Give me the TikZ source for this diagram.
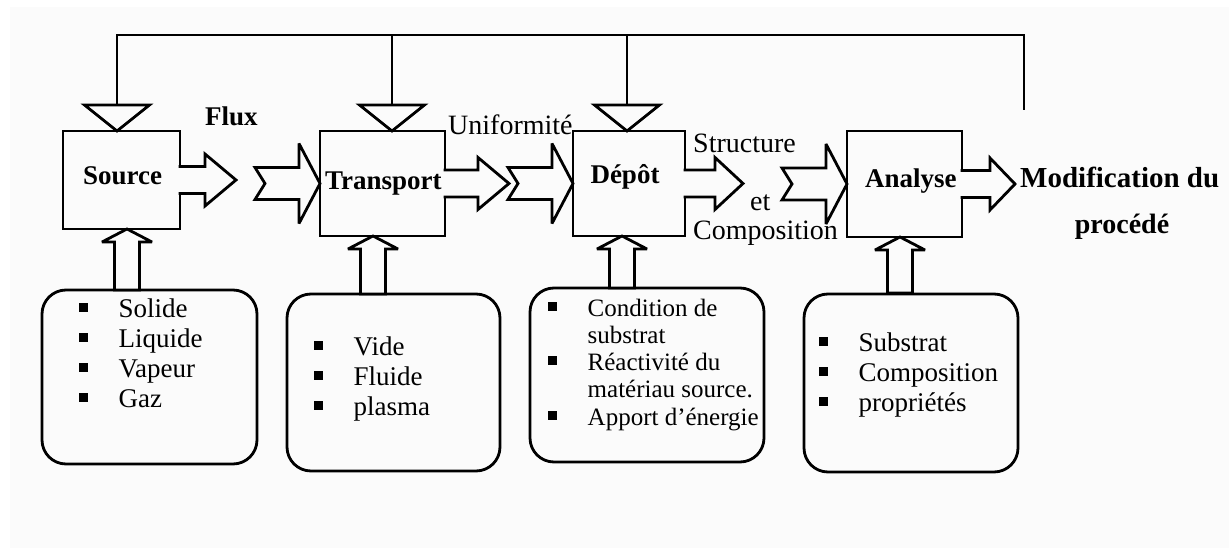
\documentclass[tikz,border=0pt]{standalone}
\usepackage{fontspec}
\setmainfont{Liberation Serif}
\usetikzlibrary{calc}
\definecolor{paper}{RGB}{251,251,251}

% square bullet followed by the indent of the item text
\newcommand\itm{\makebox[40pt][l]{\rule[5.5pt]{9pt}{9pt}}}
\newcommand\itmgap{\hspace*{40pt}}

\tikzset{
  ln/.style={line width=2.8pt},
  stagebox/.style={ln, draw, inner sep=0pt, outer sep=0pt},
  listbox/.style={ln, draw, rounded corners=24pt, inner sep=0pt, outer sep=0pt},
  blk/.style={ln, draw, fill=paper, line join=miter, miter limit=4},
  stagename/.style={font=\fontsize{27}{30}\selectfont\bfseries, inner sep=0pt, anchor=base west},
  tag/.style={font=\fontsize{28}{32}\selectfont, inner sep=0pt, anchor=base west},
  itemtext/.style={font=\fontsize{27}{30}\selectfont, inner sep=0pt, anchor=base west},
  itemsmall/.style={font=\fontsize{25}{30}\selectfont, inner sep=0pt, anchor=base west},
}

% hollow arrow leaving the east side of a stage: node, shaft length, head length
\newcommand\outarrow[3]{%
  \draw[blk] ([shift={(-1.5,-13.5)}]#1.east) -- ++({#2+1.5},0) -- ++(0,-12.5)
    -- ++(#3,26) -- ++(-#3,26) -- ++(0,-12.5) -- ++({-#2-1.5},0);}
% notched hollow arrow ending on the west side of a stage
\newcommand\inarrow[1]{%
  \draw[blk] (#1.west) -- ++(-21,-40) -- ++(0,24) -- ++(-44,0) -- ++(10,16)
    -- ++(-10,16) -- ++(44,0) -- ++(0,24) -- cycle;}
% hollow arrow rising into the bottom of a stage: node, x offset, shaft length
\newcommand\risearrow[3]{%
  \draw[blk] ([xshift=#2]#1.south) -- ++(25,13) -- ++(-12.5,0) -- ++(0,#3)
    -- ++(-25,0) -- ++(0,-#3) -- ++(-12.5,0) -- cycle;}
% feedback triangle sitting on top of a stage
\newcommand\droptri[2]{%
  \draw[blk] (#1.north -| #2) -- ++(-32.5,-26) -- ++(65,0) -- cycle;}

\begin{document}
\begin{tikzpicture}[x=1pt,y=-1pt]
\useasboundingbox (0,0) rectangle (1229,548);
\fill[paper] (10,7) rectangle (1229,548);

% stages
\node[stagebox, minimum width=117, minimum height=98]  (src) at (121.5,180) {};
\node[stagebox, minimum width=125, minimum height=105] (tra) at (382.5,183.5) {};
\node[stagebox, minimum width=112, minimum height=105] (dep) at (629,183.5) {};
\node[stagebox, minimum width=115, minimum height=106] (ana) at (904.5,184) {};

\node[stagename] (srcL) at (83,185) {Source};
\node[stagename] (traL) at (325,190) {Transport};
\node[stagename, anchor=base] (depL) at (625,184) {Dépôt};
\node[stagename] (anaL) at (865,188) {Analyse};

% feedback loop
\coordinate (fbS) at (117,35);
\coordinate (fbT) at (392,35);
\coordinate (fbD) at (627,35);
\coordinate (fbE) at (1024,35);
\coordinate (fbEnd) at (1024,110);
\draw[ln] ($(src.north -| fbS)+(0,-26)$) -- (fbS) -- (fbE) -- (fbEnd);
\draw[ln] (fbT) -- ($(tra.north -| fbT)+(0,-26)$);
\draw[ln] (fbD) -- ($(dep.north -| fbD)+(0,-26)$);
\droptri{src}{fbS}
\droptri{tra}{fbT}
\droptri{dep}{fbD}

% lists of parameters
\node[listbox, minimum width=215, minimum height=174] (lsrc) at (149.5,377) {};
\node[listbox, minimum width=213, minimum height=177] (ltra) at (393.5,382.5) {};
\node[listbox, minimum width=234, minimum height=174] (ldep) at (647,375) {};
\node[listbox, minimum width=214, minimum height=178] (lana) at (911,383) {};

% flow between stages
\outarrow{src}{25}{31}
\inarrow{tra}
\outarrow{tra}{33}{31}
\inarrow{dep}
\outarrow{dep}{30}{28}
\inarrow{ana}
\outarrow{ana}{28}{25}

\risearrow{src}{5.5}{48}
\risearrow{tra}{-9.5}{45}
\risearrow{dep}{-7}{39}
\risearrow{ana}{-4.5}{43}

% flow labels
\node[tag, font=\fontsize{27}{30}\selectfont\bfseries] (flux) at (205,126) {Flux};
\node[tag] (unif) at (448,135) {Uniformité};
\node[tag] (struc) at (693,153) {Structure};
\node[tag] (et) at (750,211) {et};
\node[tag] (compo) at (693,240) {Composition};
\node[tag, font=\fontsize{29}{32}\selectfont\bfseries] (modif) at (1020,188) {Modification du};
\node[tag, anchor=base, font=\fontsize{28}{32}\selectfont\bfseries] (proc) at (1122,234) {procédé};

% list items
\node[itemtext] (s1) at (78.5,317) {\itm Solide};
\node[itemtext] (s2) at (78.5,347) {\itm Liquide};
\node[itemtext] (s3) at (78.5,377) {\itm Vapeur};
\node[itemtext] (s4) at (78.5,407) {\itm Gaz};

\node[itemtext] (t1) at (313.5,355) {\itm Vide};
\node[itemtext] (t2) at (313.5,385) {\itm Fluide};
\node[itemtext] (t3) at (313.5,415) {\itm plasma};

\node[itemsmall] (d1) at (547.5,316) {\itm Condition de};
\node[itemsmall] (d2) at (547.5,343) {\itmgap substrat};
\node[itemsmall] (d3) at (547.5,370) {\itm Réactivité du};
\node[itemsmall] (d4) at (547.5,397) {\itmgap matériau source.};
\node[itemsmall] (d5) at (547.5,425) {\itm Apport d'énergie};

\node[itemtext] (a1) at (818.5,351) {\itm Substrat};
\node[itemtext] (a2) at (818.5,381) {\itm Composition};
\node[itemtext] (a3) at (818.5,411) {\itm propriétés};
\end{tikzpicture}
\end{document}
